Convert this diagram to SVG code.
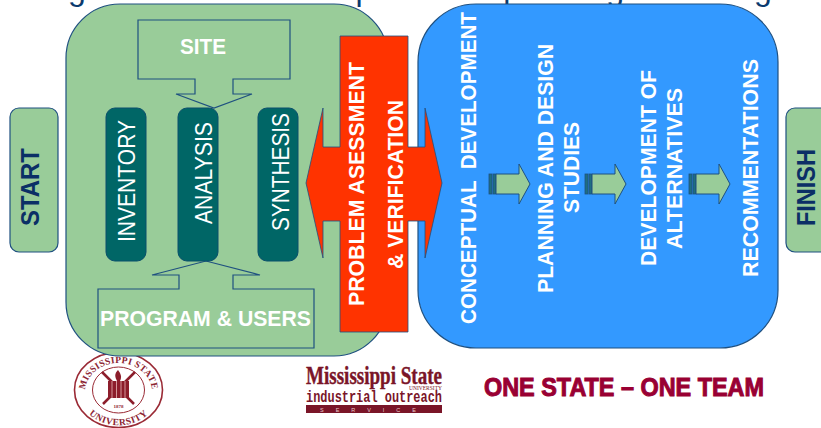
<svg xmlns="http://www.w3.org/2000/svg" width="821" height="428" viewBox="0 0 821 428">
<style>
.s{font-family:"Liberation Sans",Arial,sans-serif}
.w{fill:#fff;font-weight:bold;font-size:21.5px}
.g{fill:#99cc99;stroke:#1f5080;stroke-width:1.2}
.t{fill:#006666;stroke:#0b4f6c;stroke-width:1}
.v{fill:#fff;font-size:23px}
.d{fill:#0b2f66;font-weight:bold;font-size:25px}
.r{fill:#7a1528}
.se{font-family:"Liberation Serif",serif;font-weight:bold;fill:#8c2433}
</style>
<defs>
<g id="arr">
<rect x="0" y="-10" width="3" height="20" fill="#1f6f80" stroke="#1f5080" stroke-width="0.8"/>
<rect x="4" y="-10" width="3" height="20" fill="#1f6f80" stroke="#1f5080" stroke-width="0.8"/>
<path d="M7-10H30V-20L41 0 30 20V10H7Z" fill="#99cc99" stroke="#1f5080" stroke-width="1"/>
</g>
<path id="sealTop" d="M85 392A33.500 29 0 0 1 152 392"/>
<path id="sealBot" d="M80 394A38 31 0 0 0 157 394"/>
</defs>
<text class="s" y="0" font-size="32" fill="#0b3a6e"><tspan x="-5">through the various</tspan><tspan x="355.500">phases of planning and design</tspan></text>
<g id="seal" fill="none" stroke="#9a2a35">
<ellipse cx="118.500" cy="390" rx="44" ry="37.500" fill="#fff" stroke-width="1.6"/>
<ellipse cx="118.500" cy="390" rx="26" ry="23" stroke-width="1"/>
<text class="se" font-size="9.500" stroke="none" letter-spacing="0.300"><textPath href="#sealTop" startOffset="50%" text-anchor="middle">MISSISSIPPI STATE</textPath></text>
<text class="se" font-size="9.500" stroke="none" letter-spacing="0.500"><textPath href="#sealBot" startOffset="50%" text-anchor="middle">UNIVERSITY</textPath></text>
<path d="M102 372L134 404M135 372L103 404" stroke="#8c1d2b" stroke-width="2.500"/>
<path d="M108 381h21v17h-21z" fill="#8c1d2b" stroke="none"/>
<path d="M112 381v17M116.500 381v17M121 381v17M125 381v17" stroke="#e8b8b8" stroke-width="0.800"/>
<path d="M118 370c-4 4-3 7-1 11h3c2-4 1-7-2-11z" fill="#8c1d2b" stroke="none"/>
<text x="118.500" y="408" text-anchor="middle" class="se" font-size="5" stroke="none">1878</text>
</g>
<g id="start"><rect class="g" x="10" y="108" width="48" height="144" rx="9"/><text class="s d" transform="translate(39,226) rotate(-90)" textLength="78" lengthAdjust="spacingAndGlyphs">START</text></g>
<g id="finish"><rect class="g" x="786" y="108" width="50" height="144" rx="9"/><text class="s d" transform="translate(815,226) rotate(-90)" textLength="77" lengthAdjust="spacingAndGlyphs">FINISH</text></g>
<g id="phase1"><rect class="g" x="66" y="4" width="322" height="352" rx="54"/></g>
<g id="phase2"><rect x="418" y="4" width="360" height="344" rx="58" fill="#3399ff" stroke="#1f5080" stroke-width="1.2"/></g>
<g id="site"><path class="g" d="M138 20H290V79H233V94H252L214 108 176 94H195V79H138Z"/><text class="s w" x="180" y="53.500" textLength="46" lengthAdjust="spacingAndGlyphs">SITE</text></g>
<g id="program"><path class="g" d="M98 289H179V275H152L206 261 260 275H233V289H314V348H98Z"/><text class="s w" x="100" y="326" textLength="211" lengthAdjust="spacingAndGlyphs">PROGRAM &amp; USERS</text></g>
<g id="inventory"><rect class="t" x="106" y="108" width="40" height="153" rx="9"/><text class="s v" transform="translate(135,242) rotate(-90)" textLength="122" lengthAdjust="spacingAndGlyphs">INVENTORY</text></g>
<g id="analysis"><rect class="t" x="178" y="108" width="40" height="153" rx="9"/><text class="s v" transform="translate(212,224) rotate(-90)" textLength="102" lengthAdjust="spacingAndGlyphs">ANALYSIS</text></g>
<g id="synthesis"><rect class="t" x="258" y="108" width="40" height="153" rx="9"/><text class="s v" transform="translate(289,231) rotate(-90)" textLength="118" lengthAdjust="spacingAndGlyphs">SYNTHESIS</text></g>
<g id="problem"><path d="M340 36H408V147H425V108L442 183 425 258V221H408V332H340V221H323V258L306 183 323 108V147H340Z" fill="#ff3300" stroke="#1f5080" stroke-width="0.8"/>
<text class="s w" transform="translate(364,306) rotate(-90)" textLength="244" lengthAdjust="spacingAndGlyphs">PROBLEM ASESSMENT</text>
<text class="s w" transform="translate(403,269) rotate(-90)" textLength="169" lengthAdjust="spacingAndGlyphs">&amp; VERIFICATION</text></g>
<g id="concept"><text class="s w" transform="translate(476,324) rotate(-90)" textLength="312" lengthAdjust="spacingAndGlyphs" xml:space="preserve">CONCEPTUAL  DEVELOPMENT</text></g>
<g id="planning"><text class="s w" transform="translate(553,293) rotate(-90)" textLength="249" lengthAdjust="spacingAndGlyphs">PLANNING AND DESIGN</text><text class="s w" transform="translate(579,213) rotate(-90)" textLength="91" lengthAdjust="spacingAndGlyphs">STUDIES</text></g>
<g id="development"><text class="s w" transform="translate(656,266) rotate(-90)" textLength="196" lengthAdjust="spacingAndGlyphs">DEVELOPMENT OF</text><text class="s w" transform="translate(682,249) rotate(-90)" textLength="161" lengthAdjust="spacingAndGlyphs">ALTERNATIVES</text></g>
<g id="recommendations"><text class="s w" transform="translate(758,277) rotate(-90)" textLength="218" lengthAdjust="spacingAndGlyphs">RECOMMENTATIONS</text></g>
<g id="connectors"><use href="#arr" x="489" y="184"/><use href="#arr" x="585" y="184"/><use href="#arr" x="689" y="184"/></g>
<g id="outreach">
<text x="306" y="384" style="font-family:'Liberation Serif',serif" font-weight="bold" font-size="25" class="r" stroke="#7a1528" stroke-width="0.4" textLength="136" lengthAdjust="spacingAndGlyphs">Mississippi State</text>
<text x="442" y="389.500" text-anchor="end" style="font-family:'Liberation Serif',serif" font-size="5.500" class="r">UNIVERSITY</text>
<text x="306" y="402" style="font-family:'Liberation Mono',monospace" font-weight="bold" font-size="16" class="r" textLength="136" lengthAdjust="spacingAndGlyphs">industrial outreach</text>
<rect x="306" y="405" width="136" height="8" class="r"/>
<text x="374" y="411.500" text-anchor="middle" class="s" font-size="5.500" fill="#e8c8c8" letter-spacing="12">SERVICE</text></g>
<g id="motto"><text class="s" x="484" y="396" font-size="26" font-weight="bold" fill="#990033" stroke="#990033" stroke-width="1" textLength="280" lengthAdjust="spacingAndGlyphs" xml:space="preserve">ONE STATE – ONE TEAM</text></g>
</svg>
